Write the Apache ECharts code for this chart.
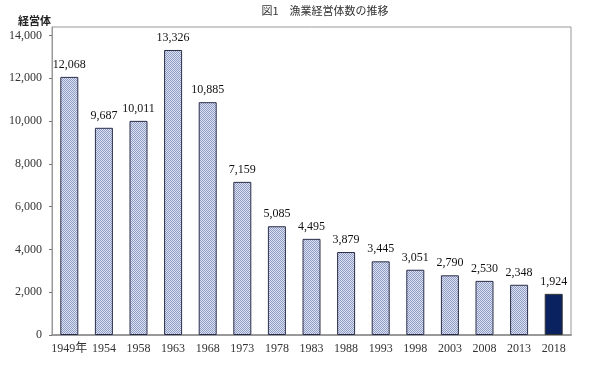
<!DOCTYPE html>
<html>
<head>
<meta charset="utf-8">
<script src="https://cdn.jsdelivr.net/npm/echarts@6/dist/echarts.min.js"></script>
<style>html,body{margin:0;padding:0;background:#fff}#c{width:600px;height:365px}</style>
</head>
<body>
<div id="c"></div>
<script>
const categories = ['1949年','1954','1958','1963','1968','1973','1978','1983','1988','1993','1998','2003','2008','2013','2018'];
const values = [12068, 9687, 10011, 13326, 10885, 7159, 5085, 4495, 3879, 3445, 3051, 2790, 2530, 2348, 1924];
const titleText = '図1　漁業経営体数の推移';
const yName = '経営体';

const pc = document.createElement('canvas');
pc.width = 2; pc.height = 2;
const ctx = pc.getContext('2d');
ctx.fillStyle = '#dce2f0'; ctx.fillRect(0,0,2,2);
ctx.fillStyle = '#8f9dc6'; ctx.fillRect(0,0,1,1); ctx.fillRect(1,1,1,1);

const serif = "'Liberation Serif','DejaVu Serif','Noto Sans CJK JP',serif";
const chart = echarts.init(document.getElementById('c'));
chart.setOption({
  animation: false,
  title: [
    {text: titleText, left: 320, textAlign: 'center', top: 0, textStyle: {fontSize: 11, fontWeight: 'normal', color: '#333', fontFamily: "'Noto Sans CJK JP',sans-serif"}},
    {text: yName, left: 13, top: 10, textStyle: {fontSize: 11, fontWeight: 'bold', color: '#222', fontFamily: "'Noto Sans CJK JP',serif"}}
  ],
  grid: {left: 52, right: 29, top: 27, bottom: 30, show: true, borderColor: '#999', borderWidth: 1},
  xAxis: {
    type: 'category', data: categories,
    axisLine: {lineStyle: {color: '#999', width: 2}},
    axisTick: {show: false},
    axisLabel: {interval: 0, color: '#333', fontSize: 12, fontFamily: serif, margin: 8}
  },
  yAxis: {
    type: 'value', min: 0, max: 14400, interval: 2000,
    axisLine: {show: true, lineStyle: {color: '#999'}},
    axisTick: {show: true, inside: false, length: 3, lineStyle: {color: '#777'}},
    splitLine: {show: false},
    axisLabel: {color: '#333', fontSize: 12, fontFamily: serif, margin: 10, showMaxLabel: false,
      formatter: v => (v % 2000 === 0 ? v.toLocaleString('en-US') : '')}
  },
  series: [{
    type: 'bar', data: values.map((v, i) => i === values.length - 1
      ? {value: v, itemStyle: {color: '#0b2260', borderColor: '#333', borderWidth: 1}}
      : v),
    barWidth: 18,
    itemStyle: {color: {image: pc, repeat: 'repeat'}, borderColor: '#2b2e4a', borderWidth: 1},
    label: {show: true, position: 'top', distance: 6, color: '#111', fontSize: 12, fontFamily: serif,
      formatter: p => p.value.toLocaleString('en-US')}
  }]
});
</script>
</body>
</html>
